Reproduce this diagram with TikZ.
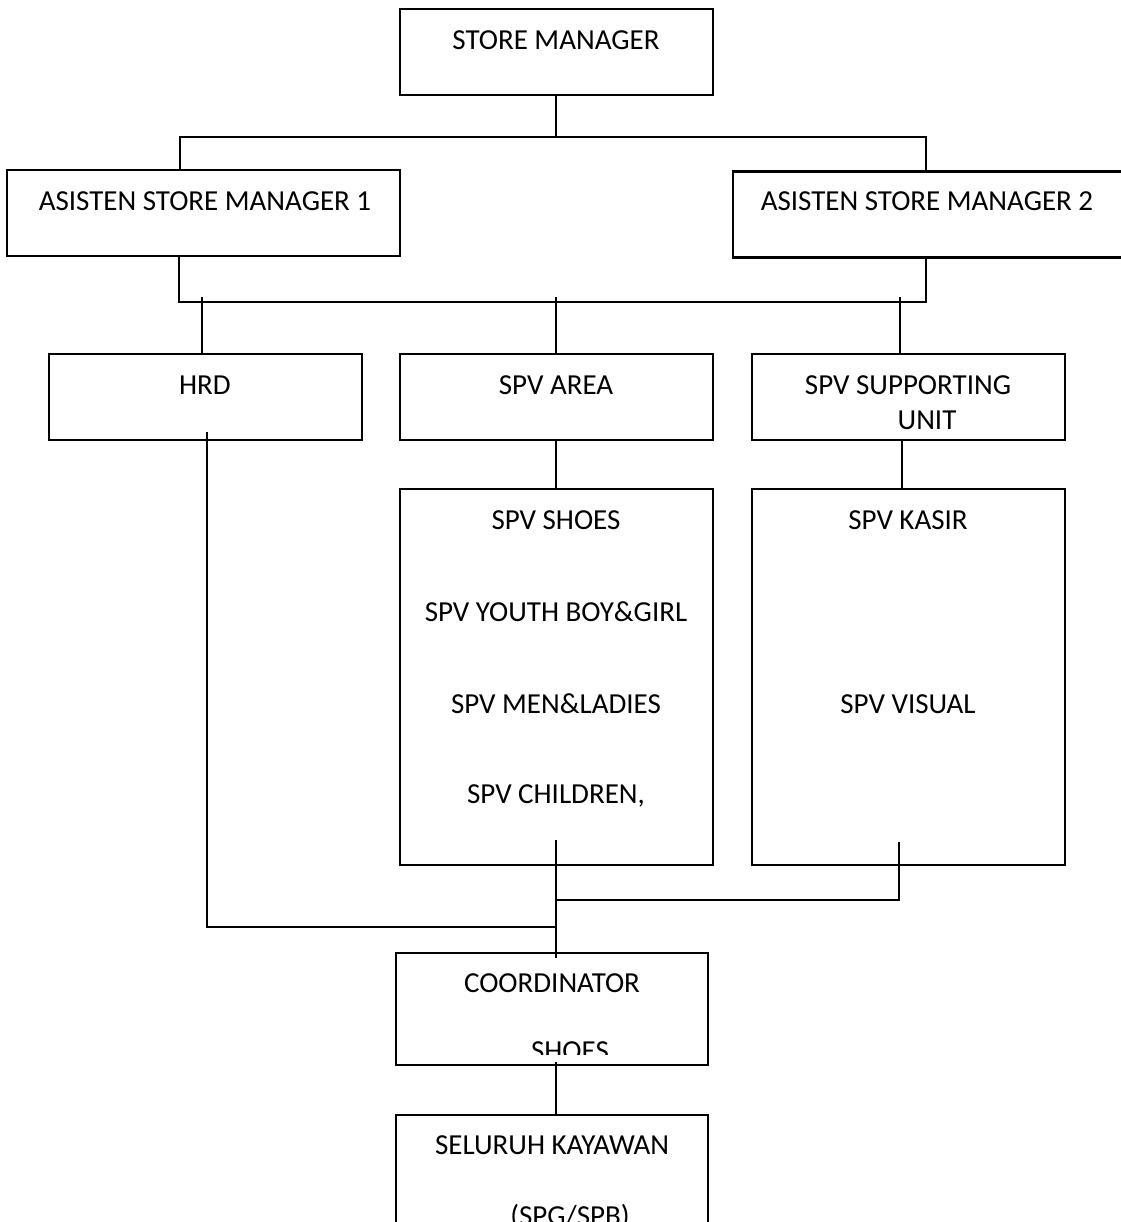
\documentclass[tikz,border=0pt]{standalone}
\usepackage{fontspec}
\setmainfont{Carlito}
\usetikzlibrary{positioning, calc}

\begin{document}
\begin{tikzpicture}[
    x=0.02cm, y=-0.02cm,
    box/.style={draw, line width=1.6pt, minimum width=6.26cm, minimum height=1.72cm,
                inner sep=0pt},
    tall/.style={box, minimum height=7.52cm},
    txt/.style={font=\fontsize{16.5}{20}\selectfont, inner sep=0pt},
    link/.style={line width=1.1pt}
  ]
  \useasboundingbox (0,0) rectangle (1120,1222);
  % Boxes
  \node[box] (sm) at (556.5,52) {};
  \node[box, minimum width=7.86cm] (asma) at (203.5,213) {};
  \node[box, minimum width=7.9cm] (asmb) at (930.5,214.5) {};
  \node[box] (hrd) at (205.5,397) {};
  \node[box] (area) at (556.5,397) {};
  \node[box] (supp) at (908.5,397) {};
  \node[tall] (divs) at (556.5,677) {};
  \node[tall] (kasir) at (908.5,677) {};
  \node[box, minimum width=6.24cm, minimum height=2.24cm] (coord) at (552,1009) {};
  \node[box, minimum width=6.24cm, minimum height=2.6cm] (staff) at (552,1180) {};
  % Box texts
  \node[txt] (smt) at (556,40) {STORE MANAGER};
  \node[txt] (asmat) at (205,201) {ASISTEN STORE MANAGER 1};
  \node[txt] (asmbt) at (927,201) {ASISTEN STORE MANAGER 2};
  \node[txt] (hrdt) at (205,385) {HRD};
  \node[txt] (areat) at (556,385) {SPV AREA};
  \node[txt] (suppt) at (908,385) {SPV SUPPORTING};
  \node[txt] (suppu) at (927,420) {UNIT};
  \foreach \n/\y/\t in {a/520/SPV SHOES, b/612/SPV YOUTH BOY\&GIRL,
                        c/704/SPV MEN\&LADIES, d/796/{SPV CHILDREN,}} {
    \node[txt] (div\n) at (556,\y) {\t};
  }
  \node[txt] (kasirt) at (908,520) {SPV KASIR};
  \node[txt] (visual) at (908,704) {SPV VISUAL};
  \node[txt] (coordt) at (552,983) {COORDINATOR};
  \begin{scope}
    \clip (396,953) rectangle (708,1054);
    \node[txt] (shoes) at (570,1051) {SHOES};
  \end{scope}
  \node[txt] (stafft) at (552,1145) {SELURUH KAYAWAN};
  \node[txt] (spg) at (570,1217) {(SPG/SPB)};
  % Bus coordinates
  \coordinate (tl) at (180,137);
  \coordinate (tr) at (926,137);
  \coordinate (bl) at (179,302);
  \coordinate (br) at (926,302);
  \coordinate (hrdl) at (207,432);
  \coordinate (hrdj) at (556,927);
  \coordinate (kasl) at (899,842);
  \coordinate (kasj) at (556,900);
  \coordinate (mtop) at (556,840);
  \coordinate (mbot) at (556,958);
  % Connectors
  \draw[link] (sm.south -| mtop) -- (mtop |- tl);
  \draw[link] (tl |- asma.north) -- (tl) -- (tr) -- (tr |- asmb.north);
  \draw[link] (bl |- asma.south) -- (bl) -- (br) -- (br |- asmb.south);
  \draw[link] (202,297) -- (hrd.north -| 202,0);
  \draw[link] (556,297) -- (area.north -| mtop);
  \draw[link] (900,297) -- (supp.north -| 900,0);
  \draw[link] (area.south -| mtop) -- (divs.north -| mtop);
  \draw[link] (supp.south -| 902,0) -- (kasir.north -| 902,0);
  \draw[link] (hrdl) -- (hrdl |- hrdj) -- (hrdj);
  \draw[link] (kasl) -- (kasl |- kasj) -- (kasj);
  \draw[link] (mtop) -- (mbot);
  \draw[link] (556,1062) -- (staff.north -| mtop);
\end{tikzpicture}
\end{document}
